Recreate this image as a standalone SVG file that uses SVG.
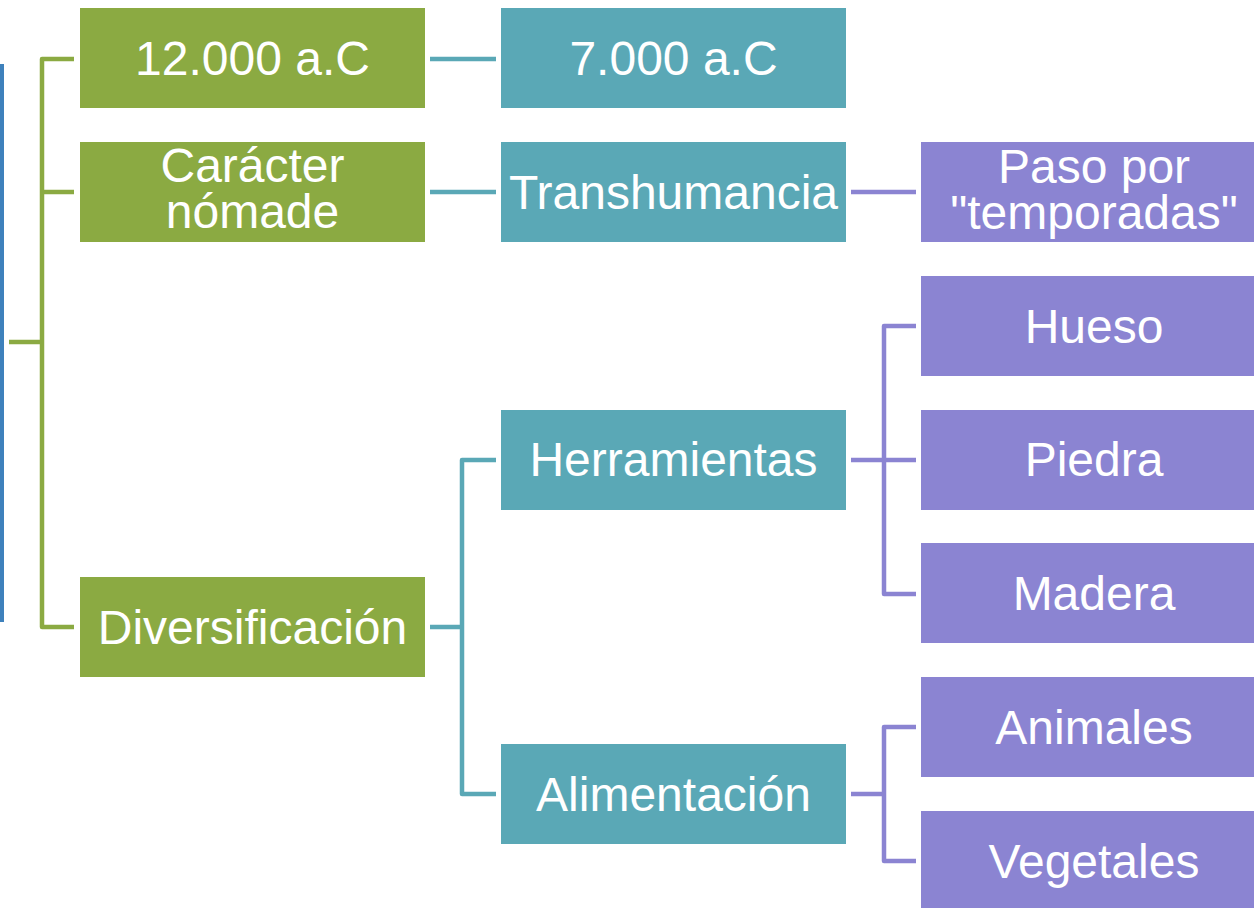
<svg xmlns="http://www.w3.org/2000/svg" width="1254" height="908" viewBox="0 0 1254 908">
<style>
.g{fill:#8BAA42}
.t{fill:#5AA8B6}
.p{fill:#8B84D2}
.b{fill:none;stroke-width:4.5;stroke-linejoin:round;stroke-linecap:butt}
.lg{stroke:#8BAA42}
.lt{stroke:#5AA8B6}
.lp{stroke:#8B84D2}
text{font-family:"Liberation Sans",Arial,sans-serif;font-size:48px;fill:#fff;text-anchor:middle}
</style>
<rect x="0" y="0" width="1254" height="908" fill="#fff"/>
<rect id="bluebar" x="0" y="64" width="4" height="558" fill="#3E81BC"/>
<g id="connectors">
<path class="b lg" d="M9,342 H42 M74,59 H42 V627 H74 M42,192 H74"/>
<path class="b lt" d="M430,59 H496 M430,192 H496 M430,627 H462 M496,460 H462 V794 H496"/>
<path class="b lp" d="M851,192 H916 M851,460 H884 M916,326 H884 V594 H916 M884,460 H916 M851,794 H884 M916,727 H884 V861 H916"/>
</g>
<g id="n1"><rect class="g" x="80" y="8" width="345" height="100"/><text x="252.5" y="75">12.000 a.C</text></g>
<g id="n2"><rect class="g" x="80" y="142" width="345" height="100"/><text x="252.5" y="182">Carácter</text><text x="252.5" y="228">nómade</text></g>
<g id="n3"><rect class="g" x="80" y="577" width="345" height="100"/><text x="252.5" y="644">Diversificación</text></g>
<g id="n4"><rect class="t" x="501" y="8" width="345" height="100"/><text x="673.5" y="75">7.000 a.C</text></g>
<g id="n5"><rect class="t" x="501" y="142" width="345" height="100"/><text x="673.5" y="209">Transhumancia</text></g>
<g id="n6"><rect class="t" x="501" y="410" width="345" height="100"/><text x="673.5" y="476">Herramientas</text></g>
<g id="n7"><rect class="t" x="501" y="744" width="345" height="100"/><text x="673.5" y="811">Alimentación</text></g>
<g id="n8"><rect class="p" x="921" y="142" width="346" height="100"/><text x="1094" y="183">Paso por</text><text x="1094" y="229">"temporadas"</text></g>
<g id="n9"><rect class="p" x="921" y="276" width="346" height="100"/><text x="1094" y="343">Hueso</text></g>
<g id="n10"><rect class="p" x="921" y="410" width="346" height="100"/><text x="1094" y="476">Piedra</text></g>
<g id="n11"><rect class="p" x="921" y="543" width="346" height="100"/><text x="1094" y="610">Madera</text></g>
<g id="n12"><rect class="p" x="921" y="677" width="346" height="100"/><text x="1094" y="744">Animales</text></g>
<g id="n13"><rect class="p" x="921" y="811" width="346" height="100"/><text x="1094" y="878">Vegetales</text></g>
</svg>
